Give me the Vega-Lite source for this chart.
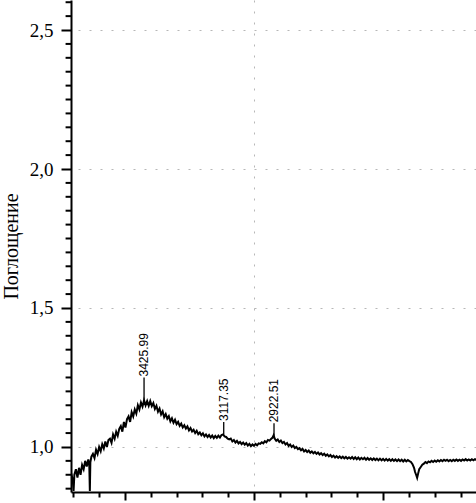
{
  "$schema": "https://vega.github.io/schema/vega-lite/v6.json",
  "width": 405,
  "height": 492,
  "autosize": "none",
  "padding": {"left": 71, "top": 0, "right": 0, "bottom": 11},
  "background": "white",
  "config": {"view": {"stroke": null}},
  "resolve": {"axis": {"x": "independent", "y": "independent"}},
  "datasets": {
    "spec": [
      {"wn":3708,"a":0.905},{"wn":3702,"a":0.88},{"wn":3699,"a":0.842},{"wn":3696,"a":0.9},{"wn":3690,"a":0.92},{"wn":3684,"a":0.89},{"wn":3678,"a":0.925},{"wn":3672,"a":0.9},{"wn":3666,"a":0.935},{"wn":3660,"a":0.92},{"wn":3654,"a":0.95},{"wn":3648,"a":0.93},{"wn":3642,"a":0.955},{"wn":3638,"a":0.93},{"wn":3636,"a":0.842},{"wn":3634,"a":0.945},{"wn":3630,"a":0.965},{"wn":3624,"a":0.975},{"wn":3618,"a":0.96},{"wn":3612,"a":0.99},{"wn":3606,"a":0.975},{"wn":3600,"a":1.0},{"wn":3594,"a":0.985},{"wn":3588,"a":1.01},{"wn":3582,"a":0.995},{"wn":3576,"a":1.02},{"wn":3570,"a":1.0},{"wn":3564,"a":1.025},{"wn":3558,"a":1.03},{"wn":3552,"a":1.015},{"wn":3546,"a":1.045},{"wn":3540,"a":1.03},{"wn":3534,"a":1.055},{"wn":3528,"a":1.04},{"wn":3522,"a":1.065},{"wn":3516,"a":1.075},{"wn":3510,"a":1.055},{"wn":3504,"a":1.09},{"wn":3498,"a":1.07},{"wn":3492,"a":1.1},{"wn":3486,"a":1.11},{"wn":3480,"a":1.09},{"wn":3474,"a":1.125},{"wn":3468,"a":1.11},{"wn":3462,"a":1.135},{"wn":3456,"a":1.12},{"wn":3450,"a":1.15},{"wn":3444,"a":1.135},{"wn":3438,"a":1.16},{"wn":3432,"a":1.145},{"wn":3426,"a":1.168},{"wn":3420,"a":1.15},{"wn":3414,"a":1.165},{"wn":3408,"a":1.148},{"wn":3402,"a":1.165},{"wn":3396,"a":1.147},{"wn":3390,"a":1.158},{"wn":3384,"a":1.137},{"wn":3378,"a":1.148},{"wn":3372,"a":1.127},{"wn":3366,"a":1.138},{"wn":3360,"a":1.117},{"wn":3354,"a":1.128},{"wn":3348,"a":1.107},{"wn":3342,"a":1.118},{"wn":3336,"a":1.102},{"wn":3330,"a":1.111},{"wn":3324,"a":1.092},{"wn":3318,"a":1.103},{"wn":3312,"a":1.087},{"wn":3306,"a":1.098},{"wn":3300,"a":1.082},{"wn":3294,"a":1.09},{"wn":3288,"a":1.076},{"wn":3282,"a":1.084},{"wn":3276,"a":1.07},{"wn":3270,"a":1.078},{"wn":3264,"a":1.066},{"wn":3258,"a":1.074},{"wn":3252,"a":1.06},{"wn":3246,"a":1.068},{"wn":3240,"a":1.056},{"wn":3234,"a":1.062},{"wn":3228,"a":1.05},{"wn":3222,"a":1.058},{"wn":3216,"a":1.046},{"wn":3210,"a":1.052},{"wn":3204,"a":1.042},{"wn":3198,"a":1.049},{"wn":3192,"a":1.038},{"wn":3186,"a":1.045},{"wn":3180,"a":1.036},{"wn":3174,"a":1.043},{"wn":3168,"a":1.034},{"wn":3162,"a":1.041},{"wn":3156,"a":1.032},{"wn":3150,"a":1.04},{"wn":3144,"a":1.033},{"wn":3138,"a":1.041},{"wn":3132,"a":1.034},{"wn":3126,"a":1.043},{"wn":3120,"a":1.045},{"wn":3114,"a":1.038},{"wn":3108,"a":1.036},{"wn":3102,"a":1.03},{"wn":3096,"a":1.027},{"wn":3090,"a":1.03},{"wn":3084,"a":1.02},{"wn":3078,"a":1.025},{"wn":3072,"a":1.016},{"wn":3066,"a":1.022},{"wn":3060,"a":1.013},{"wn":3054,"a":1.018},{"wn":3048,"a":1.01},{"wn":3042,"a":1.016},{"wn":3036,"a":1.008},{"wn":3030,"a":1.014},{"wn":3024,"a":1.005},{"wn":3018,"a":1.011},{"wn":3012,"a":1.003},{"wn":3006,"a":1.009},{"wn":3000,"a":1.004},{"wn":2994,"a":1.011},{"wn":2988,"a":1.006},{"wn":2982,"a":1.013},{"wn":2976,"a":1.011},{"wn":2970,"a":1.017},{"wn":2964,"a":1.013},{"wn":2958,"a":1.021},{"wn":2952,"a":1.017},{"wn":2946,"a":1.025},{"wn":2940,"a":1.023},{"wn":2934,"a":1.029},{"wn":2928,"a":1.034},{"wn":2924,"a":1.042},{"wn":2920,"a":1.03},{"wn":2914,"a":1.022},{"wn":2908,"a":1.027},{"wn":2902,"a":1.018},{"wn":2896,"a":1.023},{"wn":2890,"a":1.014},{"wn":2884,"a":1.018},{"wn":2878,"a":1.009},{"wn":2872,"a":1.014},{"wn":2866,"a":1.004},{"wn":2860,"a":1.009},{"wn":2854,"a":1.0},{"wn":2848,"a":1.005},{"wn":2842,"a":0.996},{"wn":2836,"a":1.0},{"wn":2830,"a":0.992},{"wn":2824,"a":0.996},{"wn":2818,"a":0.988},{"wn":2812,"a":0.993},{"wn":2806,"a":0.984},{"wn":2800,"a":0.989},{"wn":2794,"a":0.982},{"wn":2788,"a":0.987},{"wn":2782,"a":0.979},{"wn":2776,"a":0.984},{"wn":2770,"a":0.977},{"wn":2764,"a":0.982},{"wn":2758,"a":0.975},{"wn":2752,"a":0.98},{"wn":2746,"a":0.973},{"wn":2740,"a":0.978},{"wn":2734,"a":0.971},{"wn":2728,"a":0.976},{"wn":2722,"a":0.968},{"wn":2716,"a":0.973},{"wn":2710,"a":0.966},{"wn":2704,"a":0.971},{"wn":2698,"a":0.964},{"wn":2692,"a":0.969},{"wn":2686,"a":0.962},{"wn":2680,"a":0.967},{"wn":2674,"a":0.961},{"wn":2668,"a":0.966},{"wn":2662,"a":0.96},{"wn":2656,"a":0.965},{"wn":2650,"a":0.959},{"wn":2644,"a":0.964},{"wn":2638,"a":0.958},{"wn":2632,"a":0.963},{"wn":2626,"a":0.958},{"wn":2620,"a":0.964},{"wn":2614,"a":0.957},{"wn":2608,"a":0.963},{"wn":2602,"a":0.956},{"wn":2596,"a":0.962},{"wn":2590,"a":0.955},{"wn":2584,"a":0.961},{"wn":2578,"a":0.956},{"wn":2572,"a":0.961},{"wn":2566,"a":0.954},{"wn":2560,"a":0.96},{"wn":2554,"a":0.954},{"wn":2548,"a":0.959},{"wn":2542,"a":0.953},{"wn":2536,"a":0.959},{"wn":2530,"a":0.953},{"wn":2524,"a":0.958},{"wn":2518,"a":0.952},{"wn":2512,"a":0.958},{"wn":2506,"a":0.952},{"wn":2500,"a":0.957},{"wn":2494,"a":0.951},{"wn":2488,"a":0.957},{"wn":2482,"a":0.951},{"wn":2476,"a":0.956},{"wn":2470,"a":0.95},{"wn":2464,"a":0.956},{"wn":2458,"a":0.95},{"wn":2452,"a":0.955},{"wn":2446,"a":0.949},{"wn":2440,"a":0.955},{"wn":2434,"a":0.949},{"wn":2428,"a":0.954},{"wn":2422,"a":0.948},{"wn":2416,"a":0.954},{"wn":2410,"a":0.948},{"wn":2404,"a":0.953},{"wn":2398,"a":0.949},{"wn":2392,"a":0.946},{"wn":2386,"a":0.938},{"wn":2380,"a":0.925},{"wn":2376,"a":0.91},{"wn":2372,"a":0.9},{"wn":2368,"a":0.889},{"wn":2364,"a":0.905},{"wn":2360,"a":0.92},{"wn":2354,"a":0.928},{"wn":2348,"a":0.936},{"wn":2342,"a":0.94},{"wn":2336,"a":0.946},{"wn":2330,"a":0.942},{"wn":2324,"a":0.948},{"wn":2318,"a":0.945},{"wn":2312,"a":0.95},{"wn":2306,"a":0.946},{"wn":2300,"a":0.951},{"wn":2294,"a":0.947},{"wn":2288,"a":0.952},{"wn":2282,"a":0.948},{"wn":2276,"a":0.953},{"wn":2270,"a":0.949},{"wn":2264,"a":0.954},{"wn":2258,"a":0.95},{"wn":2252,"a":0.954},{"wn":2246,"a":0.949},{"wn":2240,"a":0.953},{"wn":2234,"a":0.949},{"wn":2228,"a":0.954},{"wn":2222,"a":0.95},{"wn":2216,"a":0.955},{"wn":2210,"a":0.95},{"wn":2204,"a":0.954},{"wn":2198,"a":0.95},{"wn":2192,"a":0.955},{"wn":2186,"a":0.951},{"wn":2180,"a":0.956},{"wn":2174,"a":0.951},{"wn":2168,"a":0.955},{"wn":2162,"a":0.951},{"wn":2156,"a":0.956},{"wn":2150,"a":0.952},{"wn":2144,"a":0.956},{"wn":2138,"a":0.953}
    ],
    "ann": [
      {"wn": 3425.99, "label": "3425.99", "y0": 1.17, "y1": 1.25},
      {"wn": 3117.35, "label": "3117.35", "y0": 1.045, "y1": 1.09},
      {"wn": 2922.51, "label": "2922.51", "y0": 1.04, "y1": 1.085}
    ],
    "yminor": [
      {"v": 0.85}, {"v": 0.9}, {"v": 0.95}, {"v": 1.05}, {"v": 1.1}, {"v": 1.15}, {"v": 1.2}, {"v": 1.25}, {"v": 1.3}, {"v": 1.35}, {"v": 1.4}, {"v": 1.45},
      {"v": 1.55}, {"v": 1.6}, {"v": 1.65}, {"v": 1.7}, {"v": 1.75}, {"v": 1.8}, {"v": 1.85}, {"v": 1.9}, {"v": 1.95},
      {"v": 2.05}, {"v": 2.1}, {"v": 2.15}, {"v": 2.2}, {"v": 2.25}, {"v": 2.3}, {"v": 2.35}, {"v": 2.4}, {"v": 2.45}, {"v": 2.55}, {"v": 2.6}
    ]
  },
  "layer": [
    {
      "data": {"name": "spec"},
      "mark": {"type": "line", "color": "black", "strokeWidth": 2, "clip": true, "interpolate": "linear"},
      "encoding": {
        "x": {
          "field": "wn", "type": "quantitative",
          "scale": {"domain": [2140, 3709], "reverse": true, "nice": false, "zero": false},
          "axis": {
            "orient": "bottom",
            "title": null,
            "labels": false,
            "tickCount": 100,
            "values": [3500, 3000, 2500],
            "domainColor": "black", "domainWidth": 2,
            "tickColor": "black", "tickWidth": 2, "tickSize": 8,
            "grid": true,
            "gridColor": "#999999", "gridDash": [2, 9], "gridWidth": 1,
            "gridOpacity": {"condition": {"test": "datum.value === 3000", "value": 0.7}, "value": 0}
          }
        },
        "y": {
          "field": "a", "type": "quantitative",
          "scale": {"domain": [0.838, 2.608], "nice": false, "zero": false},
          "axis": {
            "orient": "left",
            "title": "Поглощение",
            "titleFont": "Liberation Serif", "titleFontSize": 20, "titleFontWeight": "normal", "titleColor": "black", "titlePadding": 8,
            "tickCount": 100,
            "labelOverlap": false,
            "values": [1.0, 1.5, 2.0, 2.5],
            "labelExpr": "replace(format(datum.value, '.1f'), '.', ',')",
            "labelFont": "Liberation Serif", "labelFontSize": 19, "labelColor": "black", "labelPadding": 8,
            "domainColor": "black", "domainWidth": 2,
            "tickColor": "black", "tickWidth": 2, "tickSize": 10,
            "grid": true,
            "gridColor": "#999999", "gridDash": [2, 9], "gridWidth": 1, "gridOpacity": 0.7
          }
        }
      }
    },
    {
      "data": {"name": "ann"},
      "mark": {"type": "rule", "color": "black", "strokeWidth": 1.3},
      "encoding": {
        "x": {
          "field": "wn", "type": "quantitative",
          "axis": {
            "orient": "bottom", "title": null, "labels": false, "domain": false, "grid": false,
            "tickCount": 100,
            "values": [3700, 3600, 3400, 3300, 3200, 3100, 2900, 2800, 2700, 2600, 2400, 2300, 2200],
            "tickColor": "black", "tickWidth": 2, "tickSize": 5
          }
        },
        "y": {"field": "y0", "type": "quantitative", "axis": null},
        "y2": {"field": "y1"}
      }
    },
    {
      "data": {"name": "yminor"},
      "mark": {"type": "rule", "color": "black", "strokeWidth": 2, "clip": false},
      "encoding": {
        "x": {"datum": 3709, "type": "quantitative", "axis": null},
        "x2": {"datum": 3730},
        "y": {"field": "v", "type": "quantitative", "axis": null}
      }
    },
    {
      "data": {"name": "ann"},
      "mark": {"type": "text", "angle": 270, "align": "left", "baseline": "middle", "font": "Liberation Sans", "fontSize": 12, "color": "black", "dx": 1},
      "encoding": {
        "x": {"field": "wn", "type": "quantitative", "axis": null},
        "y": {"field": "y1", "type": "quantitative", "axis": null},
        "text": {"field": "label"}
      }
    }
  ]
}
